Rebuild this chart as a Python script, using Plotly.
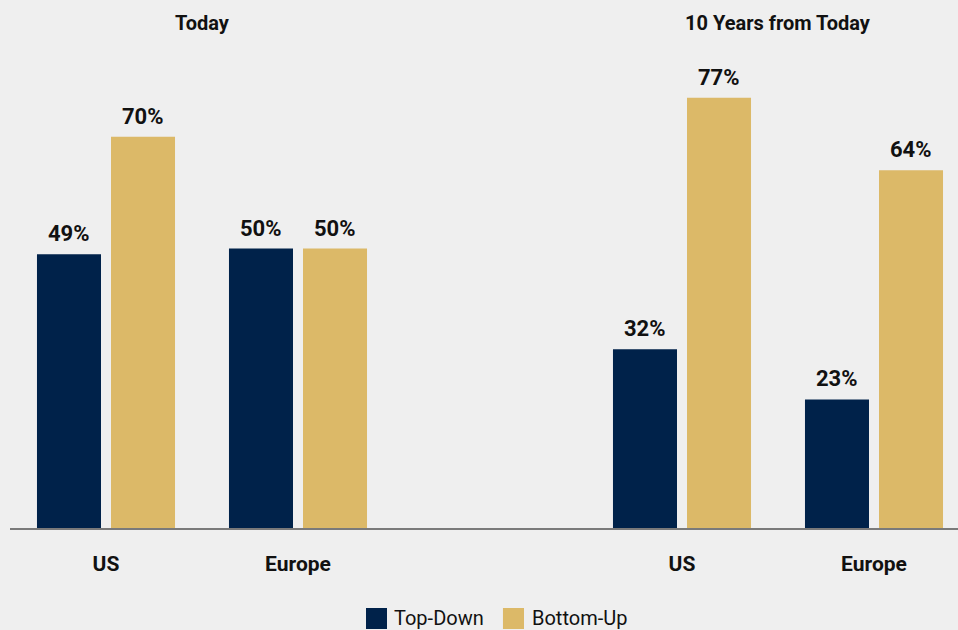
import plotly.graph_objects as go

# ---- data ----
periods = ["Today", "10 Years from Today"]
categories = ["Today|US", "Today|Europe", "gap", "10Y|US", "10Y|Europe"]
tick_labels = ["US", "Europe", "", "US", "Europe"]
top_down = [49, 50, None, 32, 23]
bottom_up = [70, 50, None, 77, 64]
series_names = ["Top-Down", "Bottom-Up"]
series_colors = ["#00224a", "#dcb968"]

FONT = "Roboto, Liberation Sans Narrow, sans-serif"
BG = "#efefef"

fig = go.Figure()
for name, vals, col in zip(series_names, [top_down, bottom_up], series_colors):
    fig.add_trace(go.Bar(x=categories, y=vals, name=name, marker=dict(color=col, line=dict(width=0)),
                         showlegend=False, hoverinfo="skip"))

# value labels
for vals, shift in [(top_down, -37), (bottom_up, 37)]:
    for c, v in zip(categories, vals):
        if v is None:
            continue
        fig.add_annotation(x=c, y=v, text=f"{v}%", showarrow=False, xref="x", yref="y",
                           yanchor="bottom", xshift=shift, yshift=6,
                           font=dict(family=FONT, size=22, color="#111111", weight="bold"))

# group titles
fig.add_annotation(x=0.5, y=1.064, xref="x", yref="paper", text=periods[0], showarrow=False,
                   yanchor="middle", font=dict(family=FONT, size=20, color="#111111", weight="bold"))
fig.add_annotation(x=3.5, y=1.064, xref="x", yref="paper", text=periods[1], showarrow=False,
                   yanchor="middle", font=dict(family=FONT, size=20, color="#111111", weight="bold"))

# manual legend
legend_pos = [(0.3755, 0.3977, 0.4030), (0.5200, 0.5422, 0.5490)]
for name, col, (x0, x1, xt) in zip(series_names, series_colors, legend_pos):
    fig.add_shape(type="rect", xref="paper", yref="paper", x0=x0, x1=x1, y0=-0.2126, y1=-0.1684,
                  fillcolor=col, line=dict(width=0))
    fig.add_annotation(x=xt, y=-0.1905, xref="paper", yref="paper", text=name, showarrow=False,
                       xanchor="left", yanchor="middle",
                       font=dict(family=FONT, size=20, color="#111111"))

fig.update_layout(
    width=958, height=630,
    margin=dict(l=10, r=0, t=53, b=102),
    paper_bgcolor=BG, plot_bgcolor=BG,
    barmode="group", bargap=0.229, bargroupgap=0.135,
    xaxis=dict(type="category", range=[-0.5, 4.4375], tickmode="array",
               tickvals=categories, ticktext=tick_labels, showgrid=False, zeroline=False,
               showline=True, linecolor="#7a7a7a", linewidth=2, ticks="",
               ticklabelstandoff=16,
               tickfont=dict(family=FONT, size=21, color="#111111", weight="bold")),
    yaxis=dict(range=[0, 85], visible=False, showgrid=False, zeroline=False),
    showlegend=False,
)

fig.write_html("out.html", config={"displayModeBar": False},
               post_script="document.body.style.margin='0';document.body.style.background='#efefef';")
